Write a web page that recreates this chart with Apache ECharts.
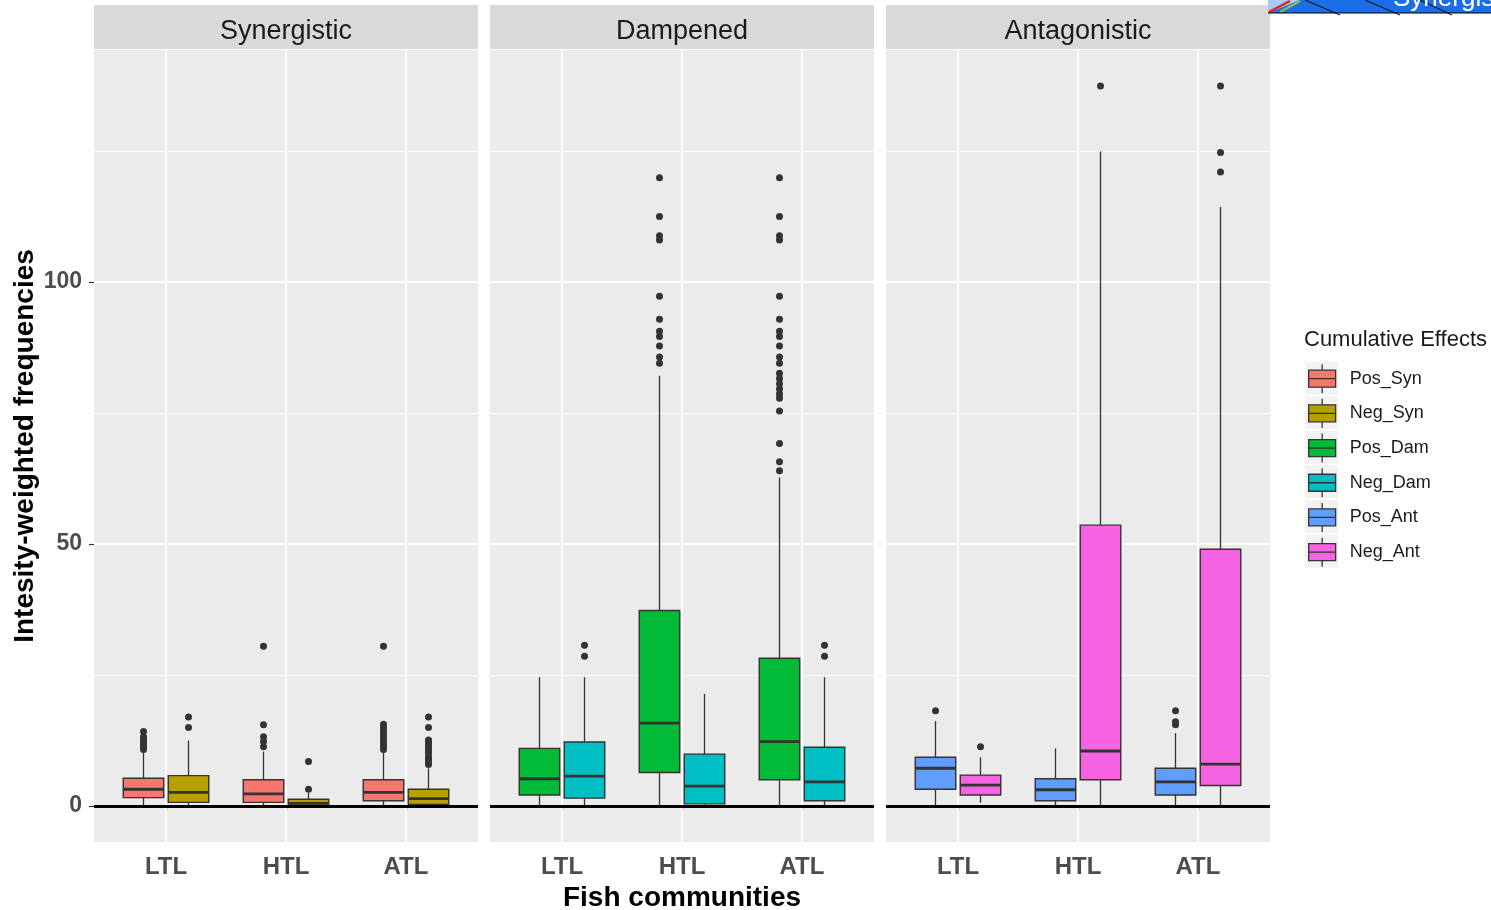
<!DOCTYPE html>
<html>
<head>
<meta charset="utf-8">
<script src="https://cdn.jsdelivr.net/npm/echarts@6/dist/echarts.min.js"></script>
<style>html,body{margin:0;padding:0;background:#fff}#c{width:1491px;height:910px}</style>
</head>
<body>
<div id="c"></div>
<script>
// ---------------- data ----------------
const facets = ['Synergistic', 'Dampened', 'Antagonistic'];
const categories = ['LTL', 'HTL', 'ATL'];
const effects = ['Pos_Syn', 'Neg_Syn', 'Pos_Dam', 'Neg_Dam', 'Pos_Ant', 'Neg_Ant'];
const effectColors = ['#F8766D', '#B79F00', '#00BA38', '#00BFC4', '#619CFF', '#F564E3'];
const yTicks = [0, 50, 100];
const yMinorGrid = [25, 75, 125];

// box stats per category (LTL, HTL, ATL): [lowerWhisker, q1, median, q3, upperWhisker]
const posSynStats = [[0, 1.6, 3.2, 5.3, 10.2], [0, 0.7, 2.3, 5.0, 10.4], [0, 1.0, 2.6, 5.0, 10.4]];
const negSynStats = [[0, 0.7, 2.6, 5.8, 12.5], [0, 0.1, 0.5, 1.3, 2.5], [0, 0.3, 1.4, 3.2, 7.2]];
const posDamStats = [[0, 2.1, 5.2, 11.0, 24.6], [0, 6.4, 15.8, 37.3, 82.1], [0, 5.0, 12.3, 28.2, 62.7]];
const negDamStats = [[0, 1.5, 5.7, 12.2, 24.6], [0, 0.4, 3.8, 9.9, 21.4], [0, 1.0, 4.6, 11.2, 24.6]];
const posAntStats = [[0, 3.2, 7.2, 9.3, 16.2], [0, 1.0, 3.1, 5.2, 11.0], [0, 2.1, 4.6, 7.2, 13.9]];
const negAntStats = [[0.6, 2.1, 4.0, 5.9, 9.3], [0, 5.0, 10.5, 53.6, 124.9], [0, 3.9, 8.0, 49.0, 114.3]];

// outliers per category (LTL, HTL, ATL)
const posSynOut = [[14.2, 13.2, 12.7, 12.2, 11.7, 11.2, 10.8], [30.5, 15.5, 13.2, 12.3, 11.3], [30.5, 15.6, 15.0, 14.4, 13.8, 13.2, 12.6, 12.0, 11.4, 10.8]];
const negSynOut = [[17.0, 15.0], [8.5, 3.2], [17.0, 15.0, 12.6, 12.1, 11.6, 11.1, 10.6, 10.1, 9.4, 8.9, 8.4, 7.9]];
const posDamOut = [[], [119.9, 112.5, 108.8, 108.0, 97.3, 92.9, 90.6, 89.6, 87.8, 85.7, 84.5],
  [119.9, 112.5, 108.8, 108.0, 97.3, 92.9, 90.6, 89.6, 87.8, 85.7, 84.5, 82.6, 81.6, 80.6, 79.6, 78.6, 77.8, 75.4, 69.2, 65.7, 64.0]];
const negDamOut = [[30.7, 28.6], [], [30.7, 28.6]];
const posAntOut = [[18.2], [], [18.2, 16.1, 15.5]];
const negAntOut = [[11.3], [137.4], [137.4, 124.7, 121.0]];

const allStats = [posSynStats, negSynStats, posDamStats, negDamStats, posAntStats, negAntStats];
const allOut = [posSynOut, negSynOut, posDamOut, negDamOut, posAntOut, negAntOut];

// ---------------- layout ----------------
const FONT = 'Liberation Sans, Arial, sans-serif';
const PANEL_LEFT = [94, 490, 886];
const PANEL_W = 384, PANEL_TOP = 50, PANEL_H = 792;
const Y_MIN = -6.87, Y_MAX = 144.27;
const DODGE = 0.1875, BOX_W = 0.3375;
const INK = '#333333';

function renderBox(params, api) {
  const x = api.value(0), lo = api.value(1), q1 = api.value(2), md = api.value(3), q3 = api.value(4), hi = api.value(5);
  const h = BOX_W / 2;
  const tl = api.coord([x - h, q3]), br = api.coord([x + h, q1]);
  const cHi = api.coord([x, hi]), cLo = api.coord([x, lo]);
  const mL = api.coord([x - h, md]), mR = api.coord([x + h, md]);
  const fill = api.visual('color');
  return {
    type: 'group',
    children: [
      { type: 'line', shape: { x1: cHi[0], y1: cHi[1], x2: cHi[0], y2: tl[1] }, style: { stroke: INK, lineWidth: 1.3 } },
      { type: 'line', shape: { x1: cLo[0], y1: br[1], x2: cLo[0], y2: cLo[1] }, style: { stroke: INK, lineWidth: 1.3 } },
      { type: 'rect', shape: { x: tl[0], y: tl[1], width: br[0] - tl[0], height: br[1] - tl[1] }, style: { fill: fill, stroke: INK, lineWidth: 1.4 } },
      { type: 'line', shape: { x1: mL[0], y1: mL[1], x2: mR[0], y2: mR[1] }, style: { stroke: INK, lineWidth: 2.8 } }
    ]
  };
}

const grids = [], xAxes = [], yAxes = [], series = [];
facets.forEach((f, i) => {
  grids.push({ left: PANEL_LEFT[i], top: PANEL_TOP, width: PANEL_W, height: PANEL_H, show: true, backgroundColor: '#EBEBEB', borderWidth: 0, containLabel: false, outerBoundsMode: 'none' });
  xAxes.push({
    gridIndex: i, type: 'value', min: 0.4, max: 3.6,
    axisLine: { show: false }, splitLine: { show: false },
    axisTick: { show: true, customValues: [1, 2, 3], length: 5, lineStyle: { color: INK, width: 1.2 } },
    axisLabel: { customValues: [1, 2, 3], formatter: v => categories[Math.round(v) - 1], fontSize: 24, fontWeight: 'bold', color: '#4D4D4D', margin: 13, fontFamily: FONT },
    name: i === 1 ? 'Fish communities' : '', nameLocation: 'middle', nameGap: 38,
    nameTextStyle: { fontSize: 28, fontWeight: 'bold', color: '#000', fontFamily: FONT }
  });
  yAxes.push({
    gridIndex: i, type: 'value', min: Y_MIN, max: Y_MAX,
    axisLine: { show: false }, splitLine: { show: false },
    axisTick: { show: i === 0, customValues: yTicks, length: 5, lineStyle: { color: INK, width: 1.2 } },
    axisLabel: { show: i === 0, customValues: yTicks, fontSize: 23, fontWeight: 'bold', color: '#4D4D4D', margin: 12, fontFamily: FONT },
    name: i === 0 ? 'Intesity-weighted frequencies' : '', nameLocation: 'middle', nameGap: 52,
    nameTextStyle: { fontSize: 28, fontWeight: 'bold', color: '#000', fontFamily: FONT }
  });
  // gridlines
  series.push({
    type: 'scatter', name: 'grid' + i, xAxisIndex: i, yAxisIndex: i, data: [], silent: true, z: 1,
    markLine: {
      silent: true, symbol: 'none', z: 1, animation: false, label: { show: false },
      data: [
        ...yTicks.map(v => ({ yAxis: v, lineStyle: { color: '#FFFFFF', width: 1.8, type: 'solid' } })),
        ...yMinorGrid.map(v => ({ yAxis: v, lineStyle: { color: '#FFFFFF', width: 1.1, type: 'solid' } })),
        ...categories.map((c, k) => ({ xAxis: k + 1, lineStyle: { color: '#FFFFFF', width: 1.8, type: 'solid' } }))
      ]
    }
  });
});

effects.forEach((name, e) => {
  const f = Math.floor(e / 2);
  const off = (e % 2 === 0 ? -1 : 1) * DODGE;
  series.push({
    type: 'custom', name: name, xAxisIndex: f, yAxisIndex: f, z: 2,
    itemStyle: { color: effectColors[e] },
    renderItem: renderBox,
    encode: { x: 0, y: [1, 2, 3, 4, 5] },
    data: allStats[e].map((s, k) => [k + 1 + off, ...s])
  });
  const pts = [];
  allOut[e].forEach((arr, k) => arr.forEach(v => pts.push([k + 1 + off, v])));
  series.push({
    type: 'scatter', name: name, xAxisIndex: f, yAxisIndex: f, z: 3,
    symbolSize: 7, itemStyle: { color: INK, opacity: 1 }, data: pts
  });
});

// zero reference line in each panel
facets.forEach((f, i) => {
  series.push({
    type: 'scatter', name: 'zero' + i, xAxisIndex: i, yAxisIndex: i, data: [], silent: true, z: 5,
    markLine: { silent: true, symbol: 'none', z: 5, animation: false, label: { show: false },
      data: [{ yAxis: 0, lineStyle: { color: '#000', width: 3, type: 'solid' } }] }
  });
});

const BOX_ICON = 'path://M13.5,0 L13.5,6 M0,6 L27,6 L27,23 L0,23 Z M0,14.5 L27,14.5 M13.5,23 L13.5,29';

const graphics = [];
facets.forEach((f, i) => {
  graphics.push({ type: 'rect', z: 0, shape: { x: PANEL_LEFT[i], y: 5, width: PANEL_W, height: 44 }, style: { fill: '#D9D9D9' } });
  graphics.push({ type: 'text', z: 1, x: PANEL_LEFT[i] + PANEL_W / 2, y: 32,
    style: { text: f, fill: '#1A1A1A', font: '27px ' + FONT, textAlign: 'center', textVerticalAlign: 'middle' } });
});
effects.forEach((n, e) => {
  graphics.push({ type: 'rect', z: 0, shape: { x: 1305, y: 378 - 16.5 + e * 34.6, width: 33, height: 33 }, style: { fill: '#F2F2F2' } });
});
// cropped banner fragment at top right
graphics.push({ type: 'rect', z: 0, shape: { x: 1268, y: 0, width: 223, height: 13 }, style: { fill: '#1B6FE6' } });
graphics.push({ type: 'polygon', z: 1, shape: { points: [[1268, 0], [1300, 0], [1268, 13]] }, style: { fill: '#A9CBF2' } });
graphics.push({ type: 'line', z: 2, shape: { x1: 1269, y1: 12, x2: 1290, y2: 1 }, style: { stroke: '#E8201A', lineWidth: 2.5 } });
graphics.push({ type: 'line', z: 2, shape: { x1: 1280, y1: 12, x2: 1300, y2: 1 }, style: { stroke: '#8CC04A', lineWidth: 2 } });
[[1305, 1340], [1365, 1400], [1420, 1452]].forEach(p => {
  graphics.push({ type: 'line', z: 2, shape: { x1: p[0], y1: 0, x2: p[1], y2: 15 }, style: { stroke: '#000', lineWidth: 1 } });
});
graphics.push({ type: 'line', z: 2, shape: { x1: 1268, y1: 13, x2: 1491, y2: 13 }, style: { stroke: '#000', lineWidth: 1 } });
graphics.push({ type: 'text', z: 3, x: 1393, y: 12, style: { text: 'Synergistic', fill: '#FFFFFF', font: '26px ' + FONT, textAlign: 'left', textVerticalAlign: 'bottom' } });

const option = {
  animation: false,
  backgroundColor: '#FFFFFF',
  textStyle: { fontFamily: FONT },
  title: { text: 'Cumulative Effects', left: 1304, top: 329, padding: 0,
    textStyle: { fontSize: 22, fontWeight: 'normal', color: '#1A1A1A', fontFamily: FONT } },
  legend: {
    orient: 'vertical', left: 1308, top: 363.5, padding: 0,
    itemWidth: 27, itemHeight: 29, itemGap: 4.4,
    textStyle: { fontSize: 18, color: '#1A1A1A', fontFamily: FONT, padding: [0, 0, 0, 9] },
    data: effects.map((n, e) => ({ name: n, icon: BOX_ICON, itemStyle: { color: effectColors[e], borderColor: INK, borderWidth: 1.3 } }))
  },
  graphic: graphics,
  grid: grids,
  xAxis: xAxes,
  yAxis: yAxes,
  series: series
};

const chart = echarts.init(document.getElementById('c'), null, { renderer: 'canvas' });
chart.setOption(option);
</script>
</body>
</html>
